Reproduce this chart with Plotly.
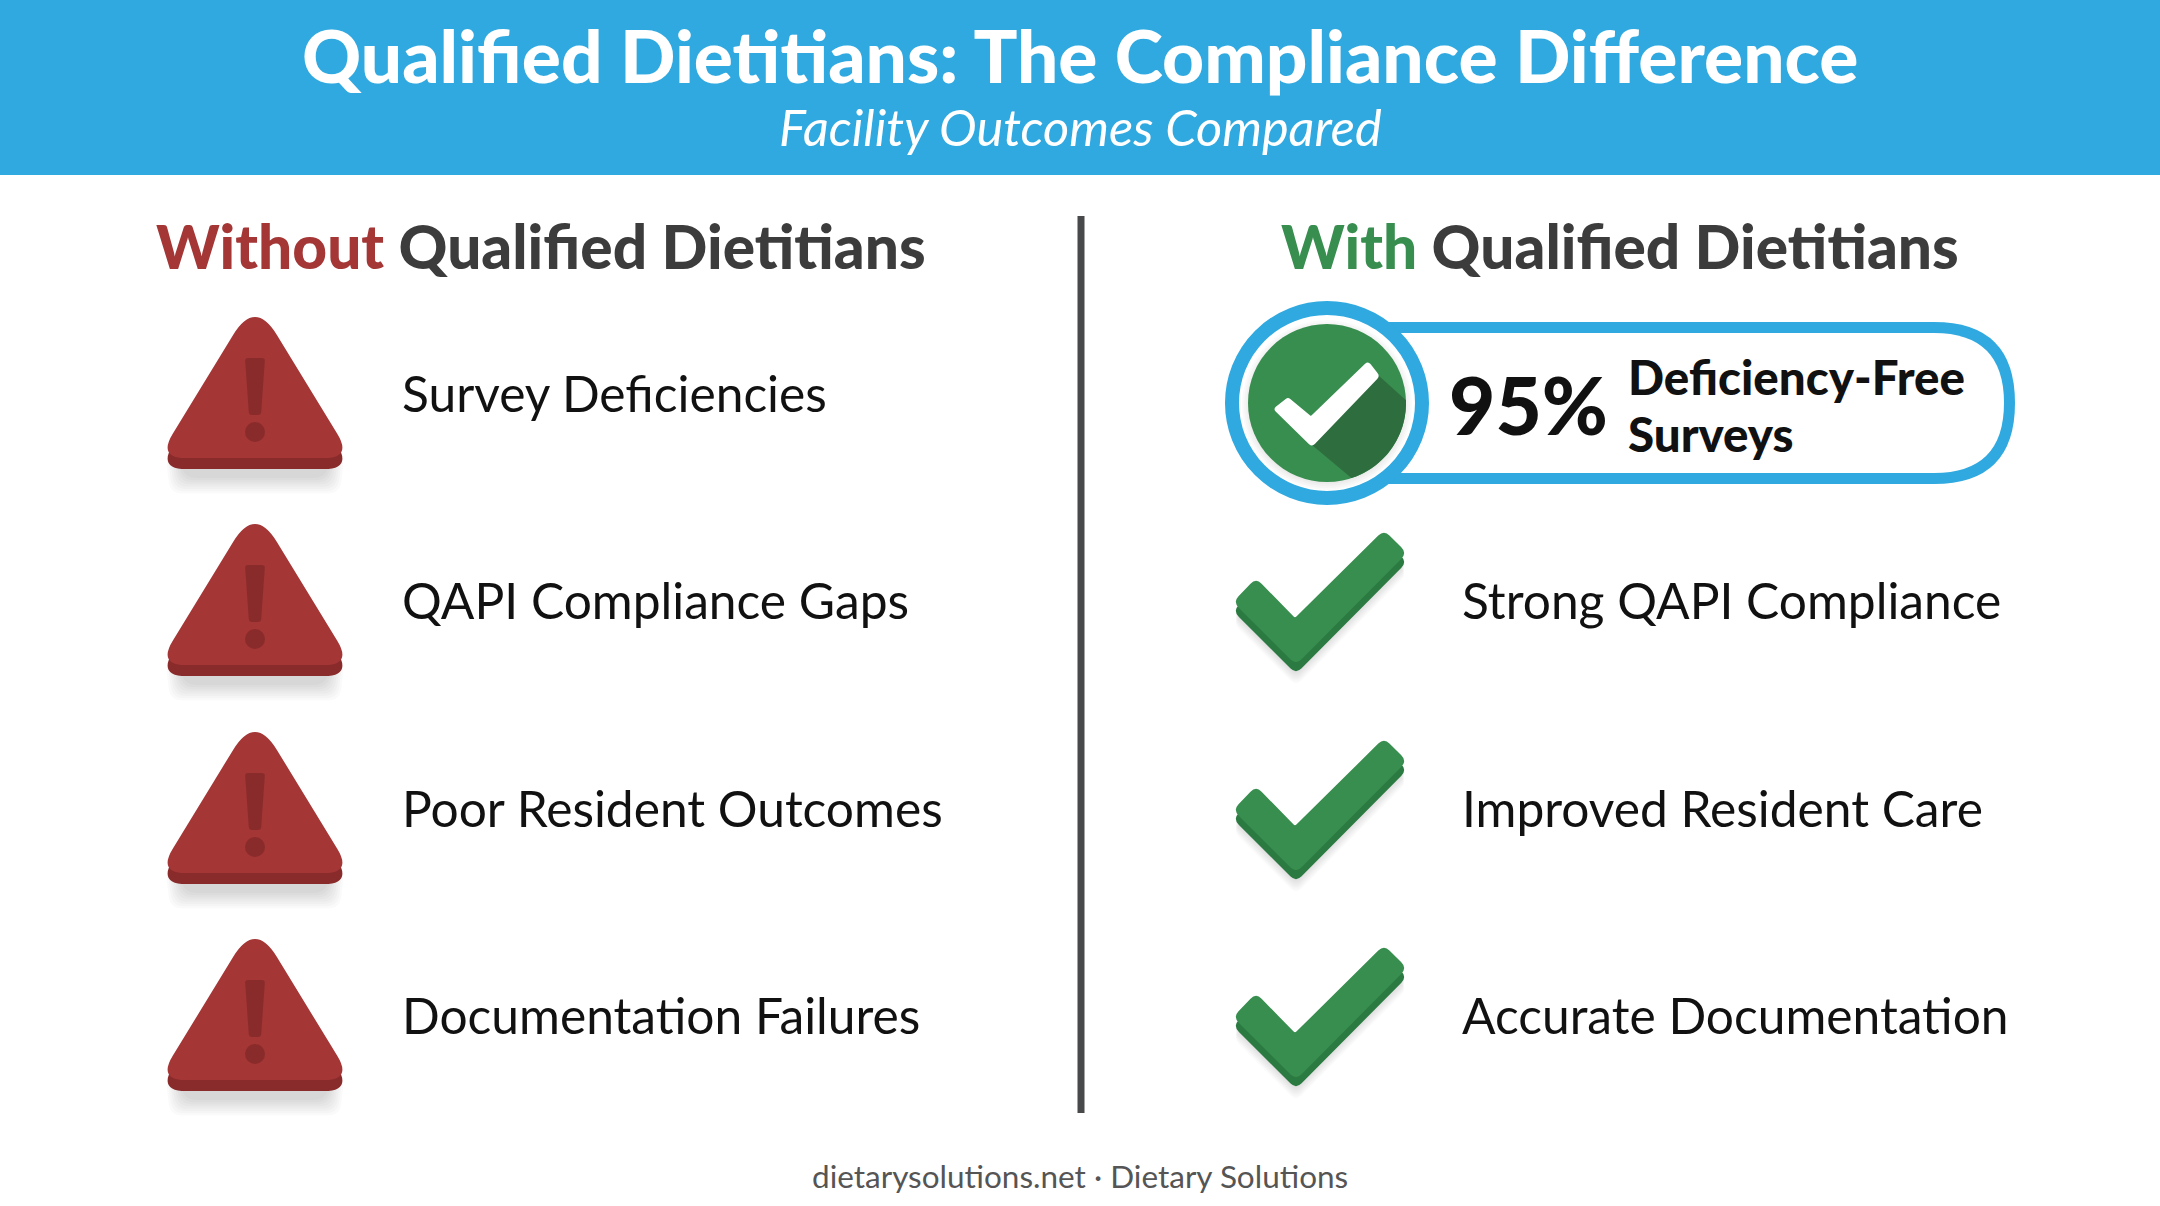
import numpy as np
import plotly.graph_objects as go

title = "Qualified Dietitians: The Compliance Difference"
subtitle = "Facility Outcomes Compared"
footer = "dietarysolutions.net · Dietary Solutions"

without_items = ["Survey Deficiencies", "QAPI Compliance Gaps", "Poor Resident Outcomes", "Documentation Failures"]
with_items = ["Strong QAPI Compliance", "Improved Resident Care", "Accurate Documentation"]
badge_value = "95%"
badge_lines = ["Deficiency-Free", "Surveys"]

# row centres in page pixels
row_y = [393, 600, 808, 1015]

BLUE = "#2fa9e0"
RED = "#a43636"
RED_DARK = "#8a2b2b"
GREEN = "#388e4f"
GREEN_DARK = "#2b7a41"
FONT = "Lato"

shapes = []
annotations = []


def rounded(pts, radii):
    # closed path with rounded corners
    n = len(pts)
    path = ""
    for i in range(n):
        v = np.array(pts[i], float)
        a = np.array(pts[i - 1], float)
        b = np.array(pts[(i + 1) % n], float)
        p1 = v + (a - v) / np.linalg.norm(a - v) * radii[i]
        p2 = v + (b - v) / np.linalg.norm(b - v) * radii[i]
        path += ("M" if i == 0 else "L") + f"{p1[0]:.1f},{p1[1]:.1f} "
        path += f"Q{v[0]:.1f},{v[1]:.1f} {p2[0]:.1f},{p2[1]:.1f} "
    return path + "Z"


def add_path(path, color, opacity=1):
    shapes.append(dict(type="path", path=path, fillcolor=color, line_width=0, opacity=opacity, xref="x", yref="y"))


def add_circle(cx, cy, r, fill, line=None, width=0, opacity=1):
    shapes.append(dict(type="circle", x0=cx - r, x1=cx + r, y0=cy - r, y1=cy + r, xref="x", yref="y",
                       fillcolor=fill, line=dict(color=line, width=width) if line else dict(width=0), opacity=opacity))


def add_text(x, y, text, size, color="#111111", anchor="left", weight="normal"):
    annotations.append(dict(x=x, y=y, xref="x", yref="y", text=text, showarrow=False, xanchor=anchor, yanchor="middle",
                            font=dict(family=FONT, size=size, color=color, weight=weight)))


def warning_icon(dy):
    shift = lambda pts: [(x, y + dy) for x, y in pts]
    # soft shadow
    for k in range(8):
        add_path(rounded(shift([(180 - k * 2, 460), (330 + k * 2, 460), (326 + k * 2, 478 + k * 2.2), (184 - k * 2, 478 + k * 2.2)]),
                         [6, 6, 12, 12]), "#000000", 0.02)
    tri = [(255, 299), (158, 458), (352, 458)]
    radii = [42, 28, 28]
    add_path(rounded(shift([(x, y + 11) for x, y in tri]), radii), RED_DARK)
    add_path(rounded(shift(tri), radii), RED)
    add_path(rounded(shift([(245, 358), (265, 358), (261, 415), (249, 415)]), [3, 3, 3, 3]), RED_DARK)
    add_circle(255, 432 + dy, 10, RED_DARK)


def check_icon(dy):
    shift = lambda pts, extra=0: [(x, y + dy + extra) for x, y in pts]
    face = [(1256, 578), (1295, 618), (1384, 530), (1407, 553), (1296, 665), (1233, 602)]
    r = [8, 2, 8, 8, 8, 8]
    for k in range(8):
        add_path(rounded(shift(face, 10 + k * 1.6), r), "#000000", 0.016)
    add_path(rounded(shift(face, 9), r), GREEN_DARK)
    add_path(rounded(shift(face), r), GREEN)


# header band and divider
shapes.append(dict(type="rect", x0=0, x1=2160, y0=0, y1=175, xref="x", yref="y", fillcolor=BLUE, line_width=0))
shapes.append(dict(type="line", x0=1081, x1=1081, y0=216, y1=1113, xref="x", yref="y", line=dict(color="#48494b", width=7)))

add_text(1080, 55, title, 73, "#ffffff", "center", 900)
add_text(1080, 126, f"<i>{subtitle}</i>", 50.5, "#ffffff", "center")

add_text(154, 245, f'<span style="color:{RED}">Without</span> Qualified Dietitians', 60.4, "#3c3c3c", weight=900)
add_text(1279, 245, f'<span style="color:{GREEN}">With</span> Qualified Dietitians', 60.4, "#3c3c3c", weight=900)

for y, label in zip(row_y, without_items):
    warning_icon(y - row_y[0])
    add_text(400, y, label, 49.7)

for y, label in zip(row_y[1:], with_items):
    check_icon(y - row_y[1])
    add_text(1460, y, label, 49.7)

# badge
add_path(rounded([(1250, 322), (2015, 322), (2015, 484), (1250, 484)], [81, 81, 81, 81]), BLUE)
add_path(rounded([(1250, 333), (2004, 333), (2004, 473), (1250, 473)], [70, 70, 70, 70]), "#ffffff")
add_circle(1327, 403, 95, "#ffffff", BLUE, 14)
for k in range(4):
    add_circle(1327, 405, 79 + k * 2, "#000000", opacity=0.02)
add_circle(1327, 403, 79, GREEN)
# folded shadow of the tick, clipped by the circle edge
arc = np.radians(np.linspace(-2, 72, 20))
fold = "M1378,375 " + " ".join(f"L{1327 + 79 * np.cos(t):.1f},{403 + 79 * np.sin(t):.1f}" for t in arc) + " L1312,445 Z"
add_path(fold, "#2e6e3e")
add_path(rounded([(1288, 397), (1311, 416), (1368, 361), (1380, 376), (1312, 447), (1273, 409)], [3, 1, 4, 4, 4, 4]), "#ffffff")

add_text(1447, 404, badge_value, 80, "#111111", weight=900)
add_text(1626, 376, badge_lines[0], 47.5, weight=900)
add_text(1626, 433, badge_lines[1], 47.5, weight=900)

add_text(1080, 1176, footer, 31.5, "#555555", "center")

fig = go.Figure()
fig.update_layout(
    width=2160, height=1206,
    margin=dict(l=0, r=0, t=0, b=0),
    paper_bgcolor="white", plot_bgcolor="white",
    xaxis=dict(range=[0, 2160], visible=False, fixedrange=True),
    yaxis=dict(range=[1206, 0], visible=False, fixedrange=True),
    shapes=shapes, annotations=annotations,
    showlegend=False,
)

fig.write_html("out.html", config={"displayModeBar": False}, post_script="document.body.style.margin='0';")
